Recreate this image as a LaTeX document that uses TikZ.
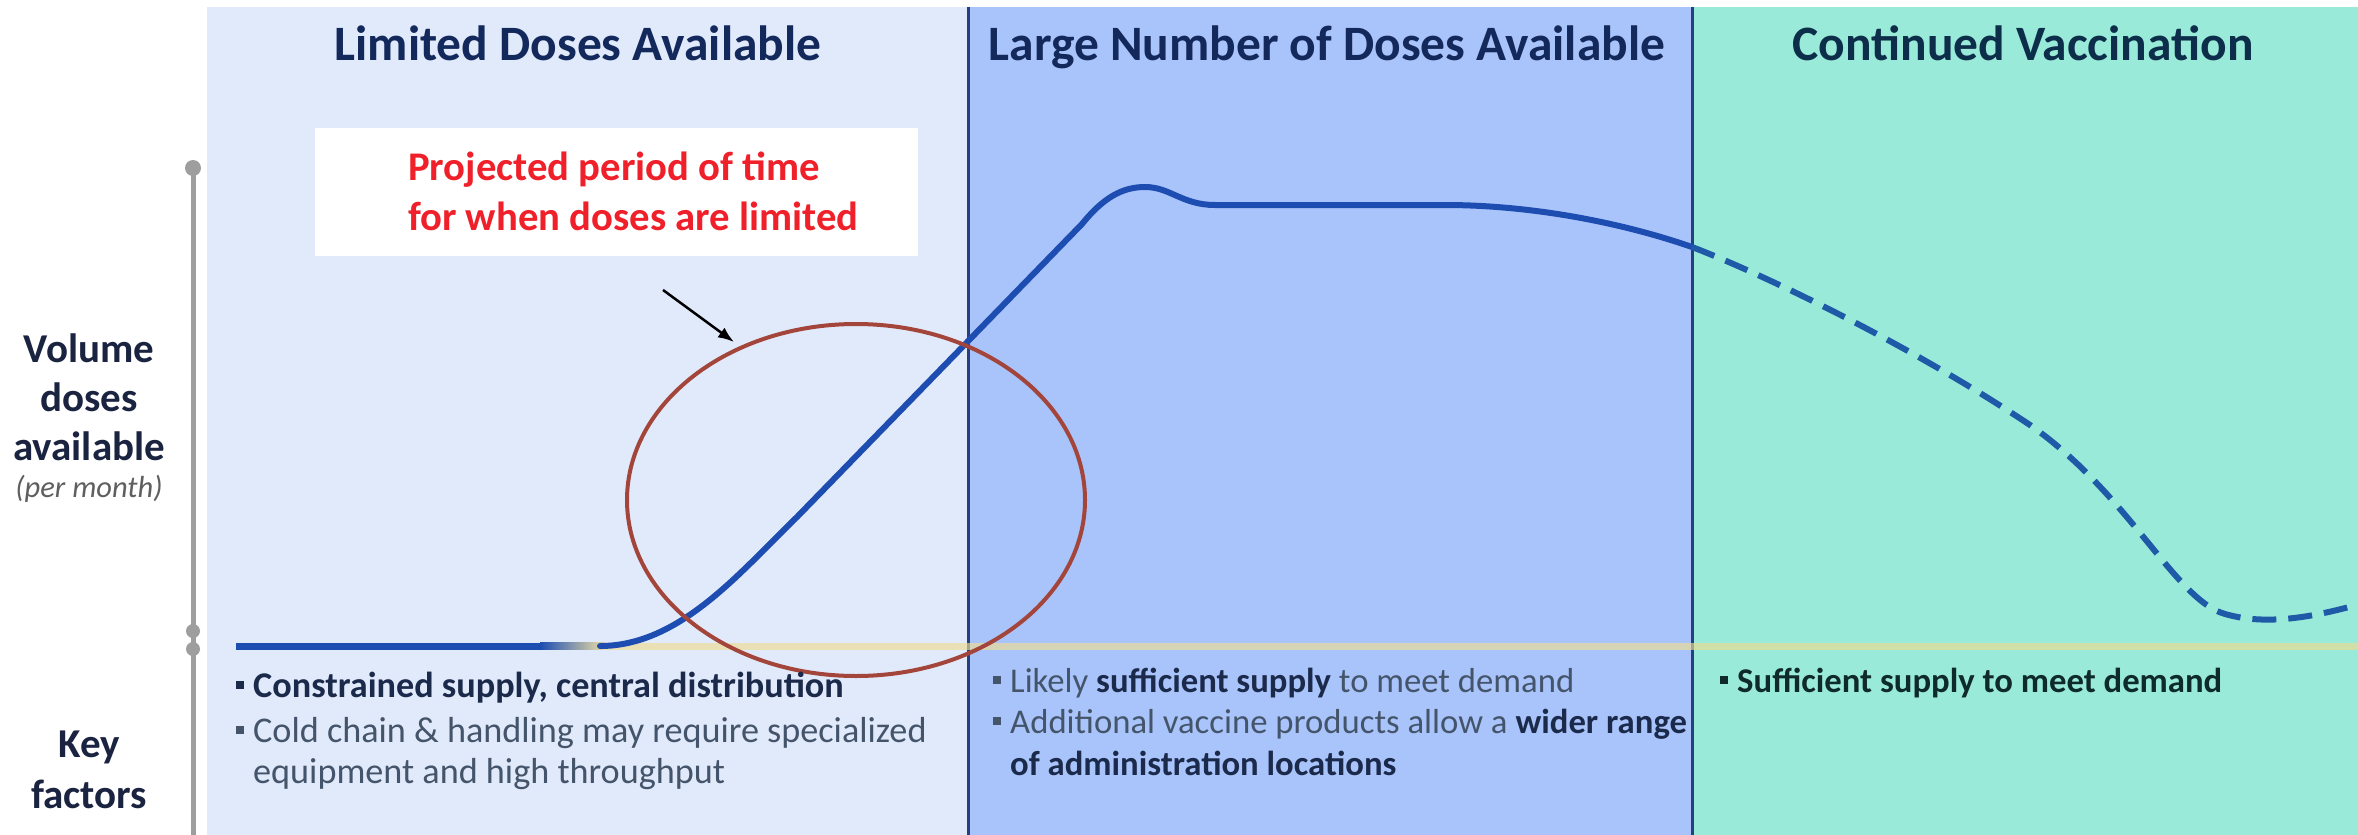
\documentclass[tikz,border=0pt]{standalone}
\usepackage{fontspec}
\setmainfont{Carlito}
\usetikzlibrary{arrows.meta}
\definecolor{panelA}{HTML}{E1EAFB}
\definecolor{panelB}{HTML}{A9C4FB}
\definecolor{panelC}{HTML}{99EAD8}
\definecolor{sepcol}{HTML}{24407F}
\definecolor{headcol}{HTML}{13285B}
\definecolor{headcolC}{HTML}{0D2E4A}
\definecolor{curvecol}{HTML}{1E4DB2}
\definecolor{dashcol}{HTML}{1F5AA8}
\definecolor{basecol}{HTML}{F0DC90}
\definecolor{ellcol}{HTML}{A3453A}
\definecolor{redtxt}{HTML}{F0202A}
\definecolor{axiscol}{HTML}{9E9E9E}
\definecolor{labcol}{HTML}{1A2440}
\definecolor{boldtxt}{HTML}{1B2A4A}
\definecolor{regtxt}{HTML}{44546A}
\definecolor{greentxt}{HTML}{0E2A2A}
\newcommand{\sqb}[1]{\textcolor{#1}{\rule[8pt]{8pt}{8pt}}\hspace{9pt}}
\begin{document}
\begin{tikzpicture}[x=1pt,y=-1pt,
  header/.style={inner sep=0pt,anchor=base,font=\fontsize{49.5}{58}\selectfont\bfseries},
  sidelab/.style={inner sep=0pt,anchor=base,text=labcol,font=\fontsize{41}{48}\selectfont\bfseries},
  bul/.style={inner sep=0pt,anchor=base west,font=\fontsize{34.7}{40}\selectfont},
  bulA/.style={inner sep=0pt,anchor=base west,font=\fontsize{36.2}{42}\selectfont},
  redlab/.style={inner sep=0pt,anchor=base west,text=redtxt,font=\fontsize{40.7}{48}\selectfont\bfseries},
  sepline/.style={draw=sepcol,line width=3pt},
  curve/.style={draw=curvecol,line width=6pt,line cap=round},
  dashcurve/.style={draw=dashcol,line width=6pt,dash pattern=on 24pt off 12pt},
  baseline/.style={draw=basecol,line width=7pt,opacity=0.65},
  axisline/.style={draw=axiscol,line width=5pt},
  axisdot/.style={fill=axiscol},
  ellipseline/.style={draw=ellcol,line width=4pt},
  pointer/.style={draw=black,line width=2.5pt,-{Latex[length=16pt,width=12pt]}}
]
\useasboundingbox (0,0) rectangle (2358,835);
\fill[white] (0,0) rectangle (2358,835);
% panels
\fill[panelA] (207,7) rectangle (968,835);
\fill[panelB] (968,7) rectangle (1692,835);
\fill[panelC] (1692,7) rectangle (2358,835);
\draw[sepline] (968,7) -- (968,835);
\draw[sepline] (1692,7) -- (1692,835);
% headers
\node[header,text=headcol] (h1) at (578,60) {Limited Doses Available};
\node[header,text=headcol] (h2) at (1327,60) {Large Number of Doses Available};
\node[header,text=headcolC] (h3) at (2023,60) {Continued Vaccination};
% left axis
\coordinate (axTop) at (193,168);
\coordinate (axBot) at (193,835);
\draw[axisline] (axTop) -- (axBot);
\fill[axisdot] (193,168) circle [radius=8];
\fill[axisdot] (193,631) circle [radius=7];
\fill[axisdot] (193,649) circle [radius=7];
% left labels
\node[sidelab] (l1) at (89,362) {Volume};
\node[sidelab] (l2) at (89,411) {doses};
\node[sidelab] (l3) at (89,460) {available};
\node[inner sep=0pt,anchor=base,text=axiscol!60!black,font=\fontsize{30.5}{36}\selectfont\itshape] (l4) at (89,497) {(per month)};
\node[sidelab] (k1) at (89,757) {Key};
\node[sidelab] (k2) at (89,808) {factors};
% baseline and curve
\draw[baseline] (600,646) -- (2358,646);
\draw[draw=curvecol,line width=7pt] (236,646) -- (540,646);
\shade[left color=curvecol,right color=basecol!80!panelA] (540,642.5) rectangle (605,649.5);
\draw[curve] (600,646) .. controls (680,646) and (740,572) .. (797,517)
  -- (1082,224) .. controls (1103,198) and (1122,187) .. (1145,187)
  .. controls (1170,187) and (1182,205) .. (1215,205)
  -- (1445,205) .. controls (1530,205) and (1620,222) .. (1692,247);
\draw[dashcurve] (1692,247) .. controls (1765,275) and (1910,345) .. (2030,425)
  .. controls (2130,495) and (2175,600) .. (2225,614)
  .. controls (2260,624) and (2300,620) .. (2349,607);
% ellipse
\draw[ellipseline] (856,500) ellipse [x radius=229, y radius=176];
% callout box
\fill[white] (315,128) rectangle (918,256);
\node[redlab] (r1) at (408,180) {Projected period of time};
\node[redlab] (r2) at (408,230) {for when doses are limited};
\coordinate (arrS) at (663,290);
\coordinate (arrE) at (734,342);
\draw[pointer] (arrS) -- (arrE);
% key factors
\node[bulA,text=boldtxt] (a1) at (236,697) {\sqb{boldtxt}\bfseries Constrained supply, central distribution};
\node[bulA,text=regtxt] (a2) at (236,742) {\sqb{regtxt}Cold chain \& handling may require specialized};
\node[bulA,text=regtxt] (a3) at (253,783) {equipment and high throughput};
\node[bul,text=regtxt] (b1) at (993,692) {\sqb{regtxt}Likely \textcolor{boldtxt}{\bfseries sufficient supply} to meet demand};
\node[bul,text=regtxt] (b2) at (993,733) {\sqb{regtxt}Additional vaccine products allow a \textcolor{boldtxt}{\bfseries wider range}};
\node[bul,text=boldtxt] (b3) at (1010,775) {\bfseries of administration locations};
\node[bul,text=greentxt] (c1) at (1720,692) {\sqb{greentxt}\bfseries Sufficient supply to meet demand};
\end{tikzpicture}
\end{document}
